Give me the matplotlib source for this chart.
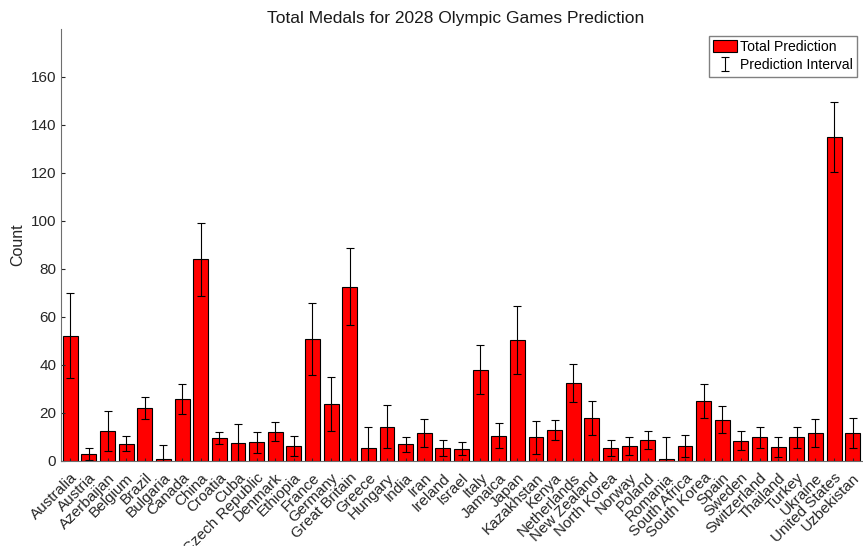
import matplotlib.pyplot as plt
import numpy as np

plt.rcParams['font.family'] = ['Liberation Sans', 'DejaVu Sans']

countries = ["Australia", "Austria", "Azerbaijan", "Belgium", "Brazil", "Bulgaria",
             "Canada", "China", "Croatia", "Cuba", "Czech Republic", "Denmark",
             "Ethiopia", "France", "Germany", "Great Britain", "Greece", "Hungary",
             "India", "Iran", "Ireland", "Israel", "Italy", "Jamaica", "Japan",
             "Kazakhstan", "Kenya", "Netherlands", "New Zealand", "North Korea",
             "Norway", "Poland", "Romania", "South Africa", "South Korea", "Spain",
             "Sweden", "Switzerland", "Thailand", "Turkey", "Ukraine",
             "United States", "Uzbekistan"]

total_pred = [52.1, 3.0, 12.5, 7.2, 22.0, 1.0,
              25.7, 84.2, 9.5, 7.5, 7.8, 12.2,
              6.4, 50.8, 23.8, 72.6, 5.3, 14.2,
              6.9, 11.8, 5.4, 5.0, 37.9, 10.4, 50.4,
              9.9, 12.9, 32.4, 17.8, 5.6,
              6.1, 8.9, 0.8, 6.4, 25.0, 17.2,
              8.5, 9.9, 5.8, 9.9, 11.5,
              135.2, 11.5]

pi_lower = [34.7, 0.5, 4.2, 4.0, 17.4, 0.0,
            19.5, 68.8, 7.0, 0.0, 3.5, 8.3,
            2.2, 36.0, 12.6, 56.5, 0.0, 5.3,
            3.8, 5.7, 2.1, 2.4, 27.8, 5.3, 36.3,
            3.0, 8.6, 24.6, 11.0, 2.1,
            2.4, 5.1, 0.0, 1.5, 18.0, 11.7,
            4.6, 5.3, 1.7, 5.3, 5.7,
            120.5, 5.3]

pi_upper = [69.9, 5.5, 20.8, 10.3, 26.8, 6.5,
            32.0, 99.2, 12.2, 15.4, 12.2, 16.1,
            10.4, 65.7, 34.9, 88.8, 14.3, 23.2,
            10.1, 17.6, 8.8, 7.9, 48.2, 15.7, 64.6,
            16.8, 17.1, 40.3, 24.9, 8.9,
            10.1, 12.5, 9.9, 11.0, 32.1, 23.0,
            12.5, 14.2, 9.9, 14.2, 17.5,
            149.5, 18.0]

x = np.arange(1, len(countries) + 1)
vals = np.array(total_pred)
yerr = [vals - np.array(pi_lower), np.array(pi_upper) - vals]

fig = plt.figure(figsize=(8.63, 5.46), dpi=100)
ax = fig.add_axes([61 / 863, 1 - 461 / 546, 801 / 863, 432 / 546])

ax.bar(x, vals, width=0.8, color='red', edgecolor='black', linewidth=0.8,
       label='Total Prediction')
ax.errorbar(x, vals, yerr=yerr, fmt='none', ecolor='black', elinewidth=0.8,
            capsize=3, capthick=0.8, label='Prediction Interval')

ax.set_xlim(0.5, 43.5)
ax.set_ylim(0, 180)
ax.set_yticks(np.arange(0, 161, 20))
ax.set_xticks(x)
ax.set_xticklabels(countries, rotation=45, ha='right', rotation_mode='anchor')

ax.tick_params(direction='in', colors='#262626', labelsize=11, length=3)
ax.tick_params(axis='x', length=2, pad=7)
for side in ('top', 'right'):
    ax.spines[side].set_visible(False)
for side in ('left', 'bottom'):
    ax.spines[side].set_color('#6e6e6e')

ax.set_ylabel('Count', fontsize=11.5, color='#262626')
ax.set_title('Total Medals for 2028 Olympic Games Prediction', fontsize=12.5,
             color='#1a1a1a', pad=4.5, x=0.493)

leg = ax.legend(loc='upper right', bbox_to_anchor=(0.994, 0.984), fontsize=10.1,
                fancybox=False, framealpha=1, edgecolor='#808080',
                borderpad=0.3, handlelength=1.75, handleheight=0.9,
                handletextpad=0.2, labelspacing=0.3, borderaxespad=0)

fig.savefig('out.png', dpi=100)
